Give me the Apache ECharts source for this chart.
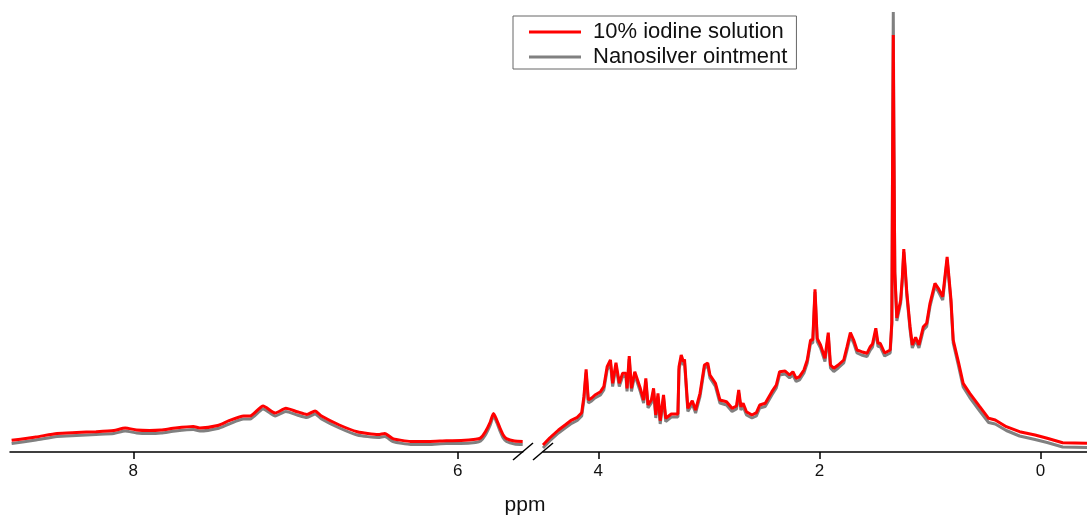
<!DOCTYPE html>
<html>
<head>
<meta charset="utf-8">
<script src="https://cdn.jsdelivr.net/npm/echarts@6/dist/echarts.min.js"></script>
<style>html,body{margin:0;padding:0;background:#fff}#c{width:1087px;height:519px}</style>
</head>
<body>
<div id="c"></div>
<script>
// Left segment (ppm 8.76 -> 5.6)
const leftPpm = [8.75, 8.60, 8.47, 8.35, 8.23, 8.12, 8.05, 7.98, 7.90, 7.83,
  7.74, 7.63, 7.59, 7.48, 7.41, 7.32, 7.28, 7.20, 7.125, 7.06,
  6.99, 6.93, 6.88, 6.84, 6.73, 6.62, 6.49, 6.45, 6.40, 6.29,
  6.18, 6.07, 5.98, 5.89, 5.86, 5.83, 5.80, 5.78, 5.76, 5.74,
  5.72, 5.70, 5.65, 5.60];
const leftIodine = [11.7, 15, 18.6, 19.5, 20.3, 21.5, 24, 22, 21.5, 22,
  24, 25.5, 24, 26.5, 31.3, 36, 36, 46, 39, 43.7,
  40.3, 37.5, 41, 36, 27, 20.3, 17.5, 18.6, 13.4, 10.6,
  10.6, 11.3, 11.5, 12.7, 14, 20.3, 30, 38.6, 32, 24,
  17, 13.4, 11, 10.6];
const leftSilver = [8.5, 12, 15.5, 16.5, 17.5, 18.5, 21, 19, 18.5, 19,
  21, 22.5, 21, 23.5, 28, 33, 33, 43, 36, 40.5,
  37, 34.5, 38, 33, 24, 17, 14.5, 15.5, 10.5, 7.5,
  7.5, 8.5, 8.5, 9.5, 11, 17, 27, 36, 29.5, 21,
  14, 10.5, 8, 7.5];

// Right segment (ppm 4.5 -> -0.42)
const rightPpm = [4.50, 4.44, 4.36, 4.30, 4.25, 4.19, 4.15, 4.13, 4.11, 4.09,
  4.06, 4.03, 3.98, 3.95, 3.92, 3.89, 3.87, 3.84, 3.81, 3.78,
  3.75, 3.74, 3.72, 3.70, 3.67, 3.62, 3.59, 3.57, 3.55, 3.52,
  3.50, 3.48, 3.46, 3.44, 3.41, 3.39, 3.34, 3.28, 3.27, 3.25,
  3.23, 3.22, 3.19, 3.15, 3.12, 3.08, 3.04, 3.01, 2.99, 2.94,
  2.90, 2.84, 2.79, 2.75, 2.73, 2.71, 2.69, 2.66, 2.61, 2.57,
  2.54, 2.49, 2.43, 2.39, 2.36, 2.31, 2.27, 2.24, 2.21, 2.18,
  2.14, 2.11, 2.08, 2.06, 2.04, 2.02, 1.99, 1.95, 1.92, 1.90,
  1.87, 1.83, 1.78, 1.75, 1.72, 1.69, 1.66, 1.62, 1.57, 1.54,
  1.52, 1.49, 1.47, 1.45, 1.41, 1.36, 1.345, 1.338, 1.332, 1.326,
  1.318, 1.30, 1.265, 1.25, 1.237, 1.225, 1.21, 1.18, 1.16, 1.13,
  1.10, 1.06, 1.03, 1.00, 0.955, 0.925, 0.885, 0.845, 0.81, 0.79,
  0.74, 0.70, 0.64, 0.55, 0.47, 0.41, 0.31, 0.19, 0.05, -0.06,
  -0.20, -0.42];
const rightIodine = [7, 14, 22, 27, 31.3, 34.7, 39.3, 55.3, 82.7, 52,
  54, 57, 60.3, 65.3, 85.3, 92, 68.7, 89.3, 68.7, 78.7,
  78.7, 63.7, 96, 63.7, 80.3, 63.7, 52, 73.7, 47, 52,
  63.7, 37, 58.7, 31.3, 57, 33.7, 38, 38, 85.3, 97,
  90.3, 92.7, 43.7, 51.3, 42, 58.7, 87, 89, 77, 68.7,
  52, 50.3, 43.7, 46, 62, 45.3, 48.7, 40.3, 37, 39.3,
  47, 48.7, 60.3, 67, 80.3, 81, 77, 80.3, 73.7, 75.3,
  82, 92, 112, 112, 162.7, 113.7, 107, 93.7, 119.3, 87,
  83.7, 87, 92, 105.3, 119.3, 112, 102, 100.3, 98.7, 105.3,
  108, 123.7, 108.7, 108.7, 99, 102, 130, 300, 417, 300,
  180, 134, 152, 175, 203, 185, 160, 125, 107, 114.7,
  107, 125.3, 128.7, 148.7, 168.7, 163.7, 155.3, 195, 152, 112,
  88.7, 68.7, 58.7, 45.3, 33.7, 32, 25.3, 20.3, 17, 13.7,
  9.3, 8.7];
const rightSilver = [4, 11, 19, 24, 28, 31.5, 36, 52, 79.5, 49,
  51, 54, 57, 62, 82, 89, 65.5, 86, 65.5, 75.5,
  75.5, 60.5, 93, 60.5, 77, 60.5, 49, 70.5, 44, 49,
  60.5, 34, 55.5, 28, 54, 30.5, 35, 35, 82, 94,
  87, 89.5, 40.5, 48, 39, 55.5, 84, 86, 74, 65.5,
  49, 47, 40.5, 43, 59, 42, 45.5, 37, 34, 36,
  44, 45.5, 57, 64, 77, 78, 74, 77, 70.5, 72,
  79, 89, 109, 109, 160, 110.5, 104, 90.5, 116, 84,
  80.5, 84, 89, 102, 116, 109, 99, 97, 95.5, 102,
  105, 120.5, 105.5, 105.5, 96, 99, 128, 310, 440, 310,
  178, 131, 149, 172, 200, 182, 157, 122, 104, 111.5,
  104, 122, 125.5, 145.5, 165.5, 160.5, 152, 192, 149, 109,
  85, 65, 54.5, 41, 29.5, 28, 21.5, 16, 12.5, 9.5,
  5, 4.5];

const leftMajor = [8, 6], leftMinor = [7];
const rightMajor = [4, 2, 0], rightMinor = [3, 1];
const seriesNames = ['10% iodine solution', 'Nanosilver ointment'];

function pairs(x, y) { return x.map((v, i) => [v, y[i]]); }

const FONT = '"Liberation Sans", Arial, sans-serif';
function majorAxis(grid, min, max, ticks) {
  return {
    gridIndex: grid, type: 'value', inverse: true, min: min, max: max,
    axisLine: { show: true, onZero: false, lineStyle: { color: '#000', width: 1.5 } },
    axisTick: { show: true, customValues: ticks, length: 7, inside: false, lineStyle: { color: '#000', width: 1.5 } },
    axisLabel: { show: true, customValues: ticks, margin: 11, fontSize: 17, color: '#111', fontFamily: FONT },
    splitLine: { show: false }
  };
}
function minorAxis(grid, min, max, ticks) {
  return {
    gridIndex: grid, type: 'value', inverse: true, min: min, max: max,
    axisLine: { show: false, onZero: false },
    axisTick: { show: true, customValues: ticks, length: 4, inside: false, lineStyle: { color: '#000', width: 1.5 } },
    axisLabel: { show: false },
    splitLine: { show: false }
  };
}

const chart = echarts.init(document.getElementById('c'));
chart.setOption({
  animation: false,
  grid: [
    { left: 10, top: 0, width: 512.7, height: 452 },
    { left: 543, top: 0, width: 544, height: 452 }
  ],
  xAxis: [
    majorAxis(0, 5.6, 8.76, leftMajor),
    minorAxis(0, 5.6, 8.76, leftMinor),
    majorAxis(1, -0.42, 4.5, rightMajor),
    minorAxis(1, -0.42, 4.5, rightMinor)
  ],
  yAxis: [
    { gridIndex: 0, type: 'value', min: 0, max: 452, show: false },
    { gridIndex: 1, type: 'value', min: 0, max: 452, show: false }
  ],
  legend: {
    data: seriesNames.map(n => ({ name: n, icon: 'rect' })),
    orient: 'vertical', left: 513, top: 16,
    itemWidth: 52, itemHeight: 3, itemGap: 3,
    padding: [5, 9, 1, 16], borderColor: '#666', borderWidth: 1,
    selectedMode: false,
    textStyle: { fontSize: 22, fontFamily: FONT, color: '#111', padding: [0, 0, 0, 7] }
  },
  series: [
    { name: seriesNames[1], type: 'line', xAxisIndex: 0, yAxisIndex: 0, data: pairs(leftPpm, leftSilver), smooth: 0.2,
      symbol: 'none', lineStyle: { color: '#808080', width: 3 }, itemStyle: { color: '#808080' } },
    { name: seriesNames[1], type: 'line', xAxisIndex: 2, yAxisIndex: 1, data: pairs(rightPpm, rightSilver),
      symbol: 'none', lineStyle: { color: '#808080', width: 3 }, itemStyle: { color: '#808080' } },
    { name: seriesNames[0], type: 'line', xAxisIndex: 0, yAxisIndex: 0, data: pairs(leftPpm, leftIodine), smooth: 0.2,
      symbol: 'none', lineStyle: { color: '#ff0000', width: 3 }, itemStyle: { color: '#ff0000' } },
    { name: seriesNames[0], type: 'line', xAxisIndex: 2, yAxisIndex: 1, data: pairs(rightPpm, rightIodine),
      symbol: 'none', lineStyle: { color: '#ff0000', width: 3 }, itemStyle: { color: '#ff0000' } }
  ],
  graphic: [
    { type: 'line', shape: { x1: 513, y1: 460, x2: 533, y2: 443 }, style: { stroke: '#000', lineWidth: 1.5 } },
    { type: 'line', shape: { x1: 533, y1: 460, x2: 553, y2: 443 }, style: { stroke: '#000', lineWidth: 1.5 } },
    { type: 'text', x: 525, y: 505, style: { text: 'ppm', fontSize: 21, fontFamily: FONT, fill: '#111', align: 'center', verticalAlign: 'middle' } }
  ]
});
</script>
</body>
</html>
